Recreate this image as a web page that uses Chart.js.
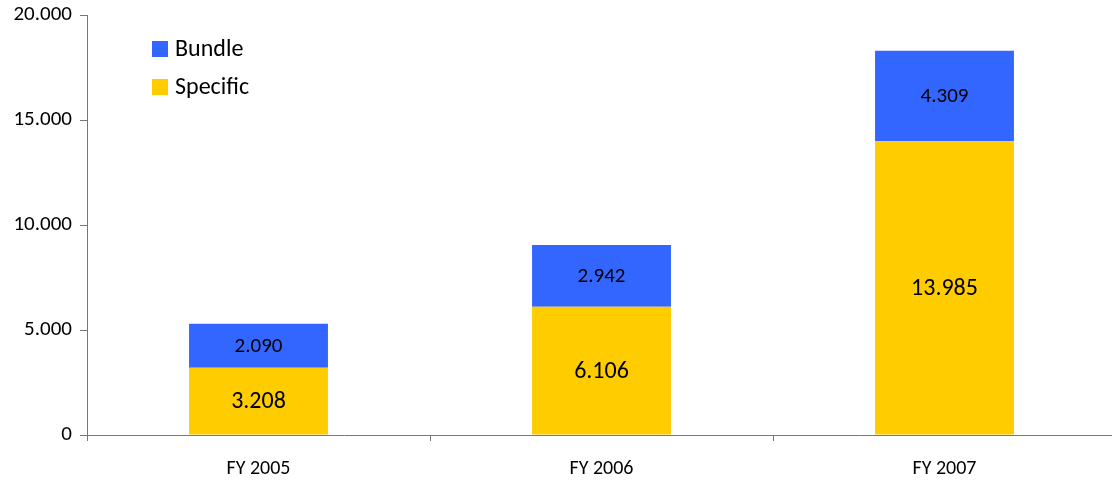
<!DOCTYPE html>
<html>
<head>
<meta charset="utf-8">
<script src="https://cdn.jsdelivr.net/npm/chart.js@4/dist/chart.umd.min.js"></script>
<style>
  html, body { margin: 0; padding: 0; background: #fff; overflow: hidden; }
  #wrap { width: 1116px; height: 485px; position: relative; }
</style>
</head>
<body>
<div id="wrap"><canvas id="c" width="1116" height="485"></canvas></div>
<script>
const categories = ['FY 2005', 'FY 2006', 'FY 2007'];
const specificValues = [3208, 6106, 13985];
const bundleValues = [2090, 2942, 4309];
const yTicks = [0, 5000, 10000, 15000, 20000];

const FONT = 'Carlito, Lato, "Liberation Sans", sans-serif';
const BLUE = '#3366FF';
const YELLOW = '#FFCC00';

function fmt(v) {
  return String(v).replace(/\B(?=(\d{3})+(?!\d))/g, '.');
}

// Values written in the middle of each stacked segment
const segmentLabels = {
  id: 'segmentLabels',
  afterDatasetsDraw(chart) {
    const ctx = chart.ctx;
    ctx.save();
    ctx.fillStyle = '#000';
    ctx.textAlign = 'center';
    ctx.textBaseline = 'middle';
    chart.data.datasets.forEach((ds, di) => {
      const meta = chart.getDatasetMeta(di);
      ctx.font = (di === 0 ? '24px ' : '21px ') + FONT;
      meta.data.forEach((bar, i) => {
        const cy = (bar.y + bar.base) / 2;
        ctx.fillText(fmt(ds.data[i]), bar.x, cy + 1);
      });
    });
    ctx.restore();
  }
};

// Vertical legend inside the plot, Bundle listed above Specific
const stackedLegend = {
  id: 'stackedLegend',
  afterDraw(chart) {
    const ctx = chart.ctx;
    const items = chart.data.datasets.slice().reverse();
    ctx.save();
    ctx.font = '24px ' + FONT;
    ctx.textBaseline = 'middle';
    ctx.textAlign = 'left';
    items.forEach((ds, k) => {
      const y = 49 + k * 38;
      ctx.fillStyle = ds.backgroundColor;
      ctx.fillRect(152, y - 8, 16, 16);
      ctx.fillStyle = '#000';
      ctx.fillText(ds.label, 175, y + 1);
    });
    ctx.restore();
  }
};

new Chart(document.getElementById('c'), {
  type: 'bar',
  data: {
    labels: categories,
    datasets: [
      { label: 'Specific', data: specificValues, backgroundColor: YELLOW, borderWidth: 0 },
      { label: 'Bundle', data: bundleValues, backgroundColor: BLUE, borderWidth: 0 }
    ]
  },
  options: {
    responsive: false,
    animation: false,
    events: [],
    layout: { padding: { top: 15, right: 0, left: 0, bottom: 0 } },
    plugins: { legend: { display: false }, tooltip: { enabled: false } },
    datasets: { bar: { categoryPercentage: 1, barPercentage: 0.405 } },
    scales: {
      x: {
        stacked: true,
        offset: true,
        grid: { display: true, drawOnChartArea: false, drawTicks: true, tickLength: 6, color: '#777', offset: true },
        border: { display: true, color: '#777', width: 1 },
        ticks: { color: '#000', font: { family: FONT, size: 20 }, padding: 16 },
        afterFit(scale) { scale.height = 50; scale.paddingLeft = 0; scale.paddingRight = 0; }
      },
      y: {
        stacked: true,
        min: 0,
        max: 20000,
        afterBuildTicks(scale) { scale.ticks = yTicks.map(v => ({ value: v })); },
        grid: { display: true, drawOnChartArea: false, drawTicks: true, tickLength: 7, color: '#777' },
        border: { display: true, color: '#777', width: 1 },
        ticks: { color: '#000', font: { family: FONT, size: 21 }, padding: 8, callback: v => fmt(v) },
        afterFit(scale) { scale.width = 87; scale.paddingTop = 0; scale.paddingBottom = 0; }
      }
    }
  },
  plugins: [segmentLabels, stackedLegend]
});
</script>
</body>
</html>
